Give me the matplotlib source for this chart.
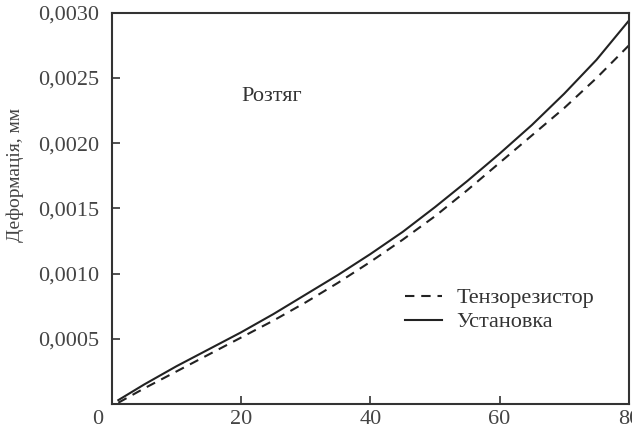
import matplotlib.pyplot as plt
import matplotlib.transforms as mtransforms

plt.rcParams['font.family'] = ['Liberation Serif', 'DejaVu Serif']

x_vals = [1, 5, 10, 15, 20, 25, 30, 35, 40, 45, 50, 55, 60, 65, 70, 75, 80]
ustanovka = [0.00003, 0.00015, 0.00029, 0.00042, 0.00055, 0.00069, 0.00084,
             0.00099, 0.00115, 0.00132, 0.00151, 0.00171, 0.00192, 0.00214,
             0.00238, 0.00264, 0.00294]
tenzorezystor = [0.00001, 0.00012, 0.00025, 0.00038, 0.00051, 0.00064, 0.00078,
                 0.00093, 0.00109, 0.00126, 0.00144, 0.00164, 0.00185, 0.00206,
                 0.00227, 0.00250, 0.00275]

x_ticks = [0, 20, 40, 60, 80]
y_ticks = [0.0005, 0.0010, 0.0015, 0.0020, 0.0025, 0.0030]
y_labels = ["0,0005", "0,0010", "0,0015", "0,0020", "0,0025", "0,0030"]

fig = plt.figure(figsize=(6.32, 4.28), dpi=100)
ax = fig.add_axes([0.177, 0.056, 0.818, 0.914])

line_col = '#222222'
ax.plot(x_vals, tenzorezystor, color=line_col, lw=1.5, ls=(0, (4.5, 3.3)), label='Тензорезистор')
ax.plot(x_vals, ustanovka, color=line_col, lw=1.5, label='Установка')

ax.set_xlim(0, 80)
ax.set_ylim(0, 0.0030)
ax.set_xticks(x_ticks)
ax.set_xticklabels([str(v) for v in x_ticks])
ax.set_yticks(y_ticks)
ax.set_yticklabels(y_labels)
ax.tick_params(direction='in', length=6, width=1.2, labelsize=16,
               colors='#333333', labelcolor='#444444')
ax.tick_params(axis='x', pad=4.5)
ax.tick_params(axis='y', pad=9)

# the "0" sits left of the corner
lab0 = ax.get_xticklabels()[0]
lab0.set_transform(lab0.get_transform() + mtransforms.ScaledTranslation(-0.14, 0, fig.dpi_scale_trans))
ax.xaxis.get_major_ticks()[0].tick1line.set_visible(False)

for sp in ax.spines.values():
    sp.set_linewidth(1.5)
    sp.set_color('#333333')

fig.text(15 / 632, 1 - 175 / 428, 'Деформація, мм', rotation=90, fontsize=14,
         color='#444444', ha='center', va='center')
ax.text(20, 0.00236, 'Розтяг', fontsize=16, color='#333333', va='center')

ax.legend(loc='upper left', bbox_to_anchor=(0.567, 0.297), frameon=False, fontsize=16,
          borderpad=0, borderaxespad=0,
          handlelength=1.65, handletextpad=0.65, labelspacing=0.15, labelcolor='#333333')

fig.savefig('out.png', dpi=100)
